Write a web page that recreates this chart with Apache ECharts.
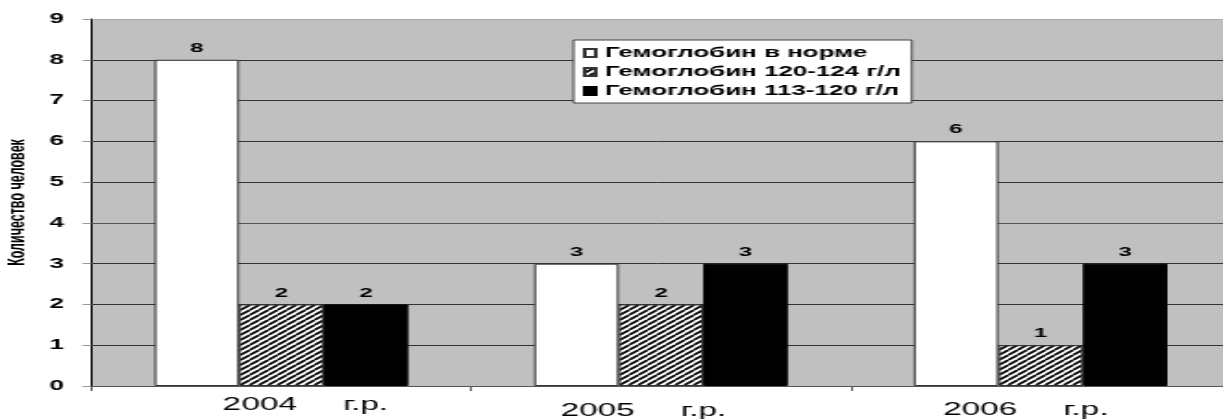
<!DOCTYPE html>
<html><head><meta charset="utf-8">
<script src="https://cdn.jsdelivr.net/npm/echarts@6/dist/echarts.min.js"></script>
<style>
html,body{margin:0;padding:0;background:#fff;overflow:hidden;width:1223px;height:419px;}
#c{width:661px;height:419px;transform:scaleX(1.8502);transform-origin:0 0;}
</style></head><body>
<div id="c"></div>
<script>
var categories = ['2004     г.р.', '2005     г.р.', '2006     г.р.'];
var seriesNames = ['Гемоглобин в норме', 'Гемоглобин 120-124 г/л', 'Гемоглобин 113-120 г/л'];
var normal = [8, 3, 6];
var hb120_124 = [2, 2, 1];
var hb113_120 = [2, 3, 3];
var yTicks = [0, 1, 2, 3, 4, 5, 6, 7, 8, 9];
var yName = 'Количество человек';

// hatch pattern
var pc = document.createElement('canvas');
var n = 5;
pc.width = n; pc.height = n;
var g = pc.getContext('2d');
g.fillStyle = '#fff'; g.fillRect(0, 0, n, n);
g.strokeStyle = '#000'; g.lineWidth = 1.7;
[-n, 0, n].forEach(function (o) {
  g.beginPath(); g.moveTo(o, n); g.lineTo(o + n, 0); g.stroke();
});

var labelPads = [[0, 0, 0, 26], [6, 19, 0, 0], [5, 16, 0, 0]];
var font = "'Liberation Sans', Arial, sans-serif";

var chart = echarts.init(document.getElementById('c'), null, {renderer: 'canvas'});
var valLabel = {show: true, position: 'top', distance: 5, color: '#000', fontWeight: 'bold', fontSize: 13, fontFamily: font};
chart.setOption({
  animation: false,
  backgroundColor: '#fff',
  grid: {left: 49.5, width: 615.5, top: 19, bottom: 33, show: true, backgroundColor: '#c0c0c0', borderWidth: 0,
         containLabel: false, outerBoundsMode: 'none'},
  legend: {
    orient: 'vertical', left: 310, top: 40,
    backgroundColor: '#fff', borderColor: '#444', borderWidth: 1,
    padding: [6, 6, 5, 5], itemGap: 5, itemWidth: 6, itemHeight: 8, itemTextGap: 9,
    icon: 'rect',
    textStyle: {color: '#000', fontWeight: 'bold', fontSize: 14, fontFamily: font},
    data: seriesNames
  },
  xAxis: {
    type: 'category',
    data: categories.map(function (c, i) { return {value: c, textStyle: {padding: labelPads[i]}}; }),
    axisLine: {lineStyle: {color: '#555', width: 1}},
    axisTick: {show: true, length: 5, lineStyle: {color: '#555'}},
    axisLabel: {margin: 10, color: '#000', fontSize: 18, fontFamily: font},
    splitLine: {show: false}
  },
  yAxis: {
    type: 'value', min: yTicks[0], max: yTicks[yTicks.length - 1], interval: 1,
    name: yName, nameLocation: 'middle', nameGap: 32, nameRotate: 90,
    nameTextStyle: {color: '#000', fontWeight: 'bold', fontSize: 12.5, fontFamily: font},
    axisLine: {show: true, lineStyle: {color: '#000', width: 1}},
    axisTick: {show: true, length: 5, lineStyle: {color: '#999'}},
    axisLabel: {margin: 15, color: '#000', fontWeight: 'bold', fontSize: 14, fontFamily: font},
    splitLine: {show: true, lineStyle: {color: ['#444', '#333', '#333', '#333', '#555', '#333', '#333', '#333', '#333', '#aaa'], width: 1}}
  },
  series: [
    {name: seriesNames[0], type: 'bar', data: normal, barWidth: 45.7, barGap: '0%',
     itemStyle: {color: '#fff', borderColor: '#333', borderWidth: 1}, label: valLabel},
    {name: seriesNames[1], type: 'bar', data: hb120_124, barWidth: 45.7, barGap: '0%',
     itemStyle: {color: {image: pc, repeat: 'repeat'}, borderColor: '#333', borderWidth: 1}, label: valLabel},
    {name: seriesNames[2], type: 'bar', data: hb113_120, barWidth: 45.7, barGap: '0%',
     itemStyle: {color: '#000', borderColor: '#000', borderWidth: 1}, label: valLabel}
  ]
});
</script>
</body></html>
